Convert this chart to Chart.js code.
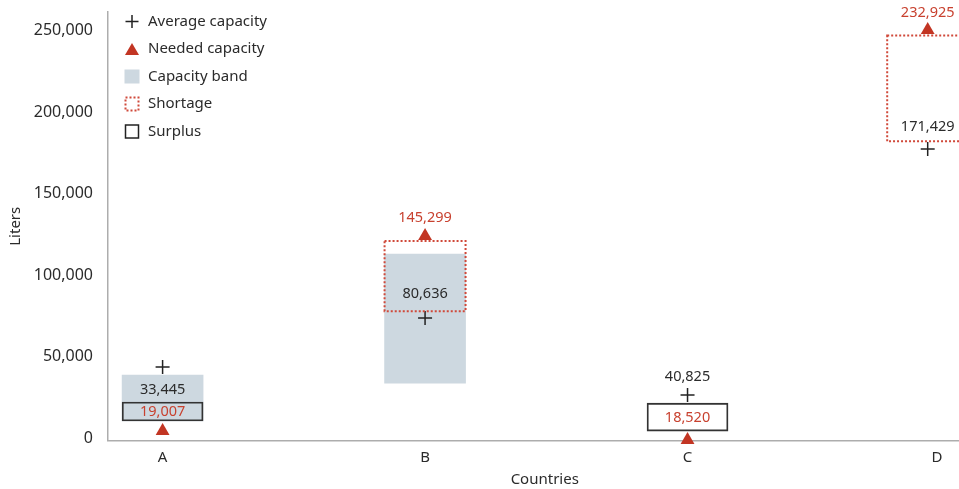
<!DOCTYPE html>
<html>
<head>
<meta charset="utf-8">
<script src="https://cdn.jsdelivr.net/npm/chart.js@4.4.1/dist/chart.umd.min.js"></script>
<style>
  html, body { margin: 0; padding: 0; background: #fff; overflow: hidden; width: 959px; height: 489px; }
</style>
</head>
<body>
<canvas id="grafico" width="990" height="489"></canvas>
<script>
const categories = ["A", "B", "C", "D"];
const catX = [0, 1, 2, 2.915];
const tickX = [0, 1, 2, 2.95];
const yTicks = [0, 50000, 100000, 150000, 200000, 250000];

// where the marks sit in the picture
const avgCapacity = [42400, 72500, 25200, 176300];
const neededCapacity = [3100, 122900, -2500, 249400];
const bandLow = [9200, 32500, null, null];
const bandHigh = [37400, 111700, null, null];
const surplusLow = [9200, null, 3000, null];
const surplusHigh = [20900, null, 20200, null];
const shortageLow = [null, 76700, null, 181000];
const shortageHigh = [null, 119800, null, 246000];

// printed values and where they are written
const avgValues = [33445, 80636, 40825, 171429];
const neededValues = [19007, 145299, 18520, 232925];
const avgLabelAt = [28300, 87200, 36200, 189800];
const neededLabelAt = [14700, 133900, 11100, 260000];

const legendLabels = ["Average capacity", "Needed capacity", "Capacity band", "Shortage", "Surplus"];

const RED = "#c23523";
const RED_TEXT = "#c8412f";
const DARK = "#2b2b2b";
const BAND = "#cdd8e0";
const FONT = "'Noto Sans', 'Open Sans', sans-serif";

function format(n) {
  return n.toLocaleString("en-US");
}

function ranges(lo, hi) {
  const out = [];
  lo.forEach((v, i) => {
    if (v !== null) out.push({ x: catX[i], y: [v, hi[i]] });
  });
  return out;
}

function points(vals) {
  return vals.map((v, i) => ({ x: catX[i], y: v }));
}

const shortageBoxes = {
  id: "shortageBoxes",
  afterDatasetsDraw(chart) {
    const ctx = chart.ctx;
    const meta = chart.getDatasetMeta(2);
    ctx.save();
    ctx.strokeStyle = "#d0493a";
    ctx.lineWidth = 2;
    ctx.setLineDash([2, 2]);
    meta.data.forEach(el => {
      const p = el.getProps(["x", "y", "base", "width"], true);
      ctx.strokeRect(p.x - p.width / 2, p.y, p.width, p.base - p.y);
    });
    ctx.restore();
  }
};

const valueLabels = {
  id: "valueLabels",
  afterDraw(chart) {
    const ctx = chart.ctx;
    const xs = chart.scales.x;
    const ys = chart.scales.y;
    ctx.save();
    ctx.font = "14.5px " + FONT;
    ctx.textAlign = "center";
    ctx.textBaseline = "middle";
    categories.forEach((c, i) => {
      const x = xs.getPixelForValue(catX[i]);
      ctx.fillStyle = DARK;
      ctx.fillText(format(avgValues[i]), x, ys.getPixelForValue(avgLabelAt[i]));
      ctx.fillStyle = RED_TEXT;
      ctx.fillText(format(neededValues[i]), x, ys.getPixelForValue(neededLabelAt[i]));
    });
    ctx.restore();
  }
};

const legendBox = {
  id: "legendBox",
  afterDraw(chart) {
    const ctx = chart.ctx;
    const sx = 132;
    ctx.save();
    ctx.font = "15px " + FONT;
    ctx.textBaseline = "middle";
    ctx.textAlign = "left";
    legendLabels.forEach((t, i) => {
      const y = 21.5 + i * 27.5;
      ctx.fillStyle = DARK;
      ctx.fillText(t, 148, y);
      ctx.setLineDash([]);
      if (i === 0) {
        ctx.strokeStyle = "#222";
        ctx.lineWidth = 1.5;
        ctx.beginPath();
        ctx.moveTo(sx - 6.5, y); ctx.lineTo(sx + 6.5, y);
        ctx.moveTo(sx, y - 6.5); ctx.lineTo(sx, y + 6.5);
        ctx.stroke();
      } else if (i === 1) {
        ctx.fillStyle = RED;
        ctx.beginPath();
        ctx.moveTo(sx, y - 6);
        ctx.lineTo(sx + 7, y + 6);
        ctx.lineTo(sx - 7, y + 6);
        ctx.closePath();
        ctx.fill();
      } else if (i === 2) {
        ctx.fillStyle = BAND;
        ctx.fillRect(sx - 7.5, y - 7, 15, 14);
      } else if (i === 3) {
        ctx.strokeStyle = "#d0493a";
        ctx.lineWidth = 2;
        ctx.setLineDash([2, 2]);
        ctx.strokeRect(sx - 6.5, y - 6.5, 13, 13);
      } else {
        ctx.strokeStyle = "#222";
        ctx.lineWidth = 1.5;
        ctx.strokeRect(sx - 6.5, y - 6.5, 13, 13);
      }
    });
    ctx.restore();
  }
};

new Chart(document.getElementById("grafico"), {
  type: "bar",
  data: {
    datasets: [
      {
        label: "Capacity band",
        data: ranges(bandLow, bandHigh),
        backgroundColor: BAND,
        borderWidth: 0,
        barThickness: 81,
        grouped: false,
        order: 5
      },
      {
        label: "Surplus",
        data: ranges(surplusLow, surplusHigh),
        backgroundColor: "rgba(0,0,0,0)",
        borderColor: "#333",
        borderWidth: 1.2,
        borderSkipped: false,
        barThickness: 81,
        grouped: false,
        order: 4
      },
      {
        label: "Shortage",
        data: ranges(shortageLow, shortageHigh),
        backgroundColor: "rgba(0,0,0,0)",
        borderWidth: 0,
        barThickness: 81,
        grouped: false,
        order: 3
      },
      {
        type: "scatter",
        label: "Average capacity",
        data: points(avgCapacity),
        pointStyle: "cross",
        pointRadius: 7,
        pointBorderWidth: 1.5,
        borderColor: "#222",
        backgroundColor: "#222",
        clip: false,
        order: 2
      },
      {
        type: "scatter",
        label: "Needed capacity",
        data: points(neededCapacity),
        pointStyle: "triangle",
        pointRadius: 8,
        pointBorderWidth: 0,
        borderColor: RED,
        backgroundColor: RED,
        clip: false,
        order: 1
      }
    ]
  },
  options: {
    responsive: false,
    animation: false,
    layout: { padding: { top: 12, right: 6, bottom: 0, left: 0 } },
    plugins: {
      legend: { display: false },
      tooltip: { enabled: false }
    },
    scales: {
      x: {
        type: "linear",
        offset: false,
        min: -0.208,
        max: 3.12,
        afterBuildTicks: s => { s.ticks = tickX.map(v => ({ value: v })); },
        afterFit: s => { s.height = 48.5; s.paddingLeft = 0; s.paddingRight = 0; },
        ticks: {
          padding: 8,
          color: DARK,
          font: { size: 15, family: FONT },
          callback: (v, i) => categories[i]
        },
        grid: { display: false, drawTicks: false },
        border: { display: true, color: "#adadad", width: 1.5 },
        title: {
          display: true,
          text: "Countries",
          color: DARK,
          font: { size: 15, family: FONT },
          padding: 0
        }
      },
      y: {
        min: -2750,
        max: 260400,
        afterBuildTicks: s => { s.ticks = yTicks.map(v => ({ value: v })); },
        afterFit: s => { s.width = 108; s.paddingTop = 0; s.paddingBottom = 0; },
        ticks: {
          padding: 15,
          labelOffset: 2,
          color: DARK,
          font: { size: 16, family: FONT },
          callback: v => format(v)
        },
        grid: { display: false, drawTicks: false },
        border: { display: true, color: "#adadad", width: 1.5 },
        title: {
          display: true,
          text: "Liters",
          color: DARK,
          font: { size: 15, family: FONT },
          padding: 7
        }
      }
    }
  },
  plugins: [shortageBoxes, valueLabels, legendBox]
});
</script>
</body>
</html>
